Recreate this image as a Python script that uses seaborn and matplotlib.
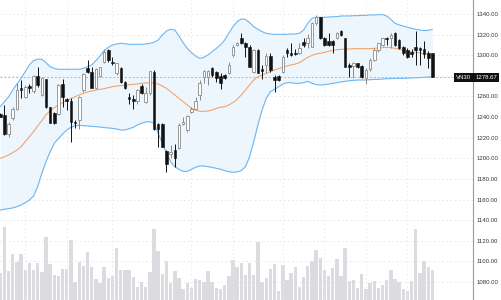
import numpy as np
import pandas as pd
import matplotlib
matplotlib.use("Agg")
import matplotlib.pyplot as plt
import matplotlib.transforms as mtransforms
import seaborn as sns

# ---------------- data ----------------
opens = [1242.7, 1242.1, 1223.6, 1238.8, 1247.9, 1268.6, 1259.2, 1270.2, 1265.0, 1279.9,
         1261.5, 1277.0, 1250.1, 1243.7, 1242.7, 1272.1, 1257.6, 1256.0, 1235.3, 1237.2,
         1266.3, 1287.3, 1284.1, 1268.6, 1279.9, 1293.8, 1305.1, 1293.8, 1282.5, 1287.3,
         1274.4, 1259.2, 1257.3, 1256.0, 1270.5, 1255.0, 1263.1, 1284.1, 1233.3, 1233.0,
         1207.5, 1204.2, 1208.1, 1209.7, 1233.0, 1227.5, 1245.3, 1247.5, 1261.5, 1279.2,
         1278.6, 1287.3, 1284.1, 1279.9, 1280.9, 1283.1, 1300.3, 1310.0, 1317.1, 1311.6,
         1308.3, 1284.1, 1305.1, 1286.4, 1290.6, 1299.6, 1279.2, 1279.9, 1284.1, 1305.1,
         1302.5, 1302.5, 1301.9, 1313.2, 1311.6, 1308.3, 1331.6, 1336.8, 1316.4, 1313.8,
         1314.2, 1316.4, 1323.5, 1316.4, 1290.6, 1289.6, 1292.2, 1289.6, 1277.6, 1286.4,
         1295.4, 1305.1, 1310.0, 1317.1, 1316.4, 1321.9, 1314.8, 1307.7, 1305.1, 1303.5,
         1307.7, 1306.7, 1305.7, 1301.9, 1301.9]
highs = [1243.7, 1251.8, 1235.6, 1250.1, 1272.8, 1276.0, 1271.2, 1272.1, 1280.9, 1288.3,
         1279.2, 1277.0, 1250.1, 1245.3, 1272.1, 1276.6, 1258.2, 1258.2, 1237.2, 1260.5,
         1282.5, 1295.4, 1288.9, 1287.3, 1288.9, 1306.1, 1305.7, 1298.6, 1292.8, 1288.3,
         1275.0, 1263.1, 1261.5, 1267.3, 1272.1, 1269.5, 1285.1, 1285.7, 1234.0, 1234.0,
         1208.1, 1213.0, 1213.6, 1234.0, 1240.4, 1242.1, 1250.1, 1259.2, 1276.0, 1285.7,
         1285.7, 1288.9, 1284.7, 1282.5, 1281.5, 1293.8, 1310.0, 1313.2, 1321.3, 1313.2,
         1310.0, 1305.7, 1305.7, 1290.6, 1301.9, 1301.9, 1280.9, 1280.9, 1300.3, 1306.7,
         1311.6, 1305.7, 1311.6, 1316.4, 1320.6, 1332.6, 1339.1, 1337.4, 1317.4, 1321.3,
         1314.8, 1322.9, 1324.5, 1317.1, 1292.2, 1293.8, 1292.8, 1290.6, 1287.3, 1297.0,
         1306.7, 1312.2, 1317.1, 1318.0, 1321.3, 1322.9, 1315.4, 1309.0, 1306.7, 1305.7,
         1323.9, 1308.3, 1313.8, 1304.5, 1302.5]
lows = [1239.8, 1222.7, 1221.0, 1237.2, 1246.9, 1258.2, 1258.2, 1263.1, 1263.7, 1269.5,
        1260.5, 1248.5, 1234.0, 1233.3, 1242.1, 1250.1, 1246.9, 1216.2, 1229.1, 1228.5,
        1264.7, 1282.5, 1267.9, 1266.9, 1279.2, 1292.2, 1293.8, 1290.6, 1280.9, 1273.4,
        1267.0, 1252.7, 1248.2, 1252.7, 1262.4, 1253.4, 1261.5, 1227.5, 1211.3, 1210.7,
        1187.1, 1200.0, 1191.9, 1208.8, 1232.4, 1225.9, 1244.3, 1246.9, 1256.6, 1272.8,
        1271.2, 1279.2, 1274.4, 1267.0, 1276.6, 1281.8, 1298.6, 1309.3, 1310.9, 1298.6,
        1288.3, 1282.5, 1282.5, 1276.6, 1282.5, 1284.1, 1264.7, 1275.4, 1283.1, 1298.6,
        1299.6, 1300.3, 1301.2, 1308.3, 1306.7, 1307.7, 1329.4, 1315.8, 1309.0, 1309.0,
        1301.9, 1315.4, 1318.7, 1288.3, 1279.2, 1277.6, 1287.3, 1277.6, 1272.1, 1285.1,
        1294.8, 1303.5, 1309.0, 1310.0, 1306.7, 1309.0, 1305.7, 1300.3, 1297.0, 1298.6,
        1290.6, 1290.6, 1297.0, 1287.3, 1278.67]
closes = [1240.4, 1223.3, 1233.3, 1247.9, 1266.3, 1266.0, 1268.9, 1268.6, 1279.9, 1271.2,
          1277.6, 1250.1, 1234.6, 1234.0, 1271.2, 1259.2, 1256.0, 1235.6, 1234.3, 1259.2,
          1281.5, 1284.1, 1268.6, 1286.7, 1288.3, 1302.8, 1295.4, 1292.2, 1292.2, 1274.4,
          1267.9, 1257.3, 1256.0, 1266.3, 1263.1, 1263.1, 1284.7, 1228.2, 1228.2, 1211.3,
          1194.5, 1205.9, 1200.0, 1232.4, 1235.3, 1241.1, 1247.5, 1256.0, 1273.4, 1284.7,
          1284.7, 1280.9, 1277.6, 1272.8, 1277.6, 1290.6, 1308.3, 1311.6, 1311.6, 1308.3,
          1288.9, 1305.1, 1283.1, 1284.7, 1299.6, 1285.7, 1276.0, 1276.0, 1298.6, 1301.9,
          1300.3, 1300.9, 1307.4, 1310.0, 1316.4, 1331.6, 1336.8, 1316.4, 1310.0, 1310.0,
          1310.0, 1321.9, 1319.6, 1288.9, 1288.9, 1292.2, 1288.3, 1279.2, 1285.7, 1295.4,
          1305.1, 1311.6, 1316.4, 1315.4, 1319.7, 1310.0, 1306.7, 1301.9, 1298.0, 1301.2,
          1305.1, 1305.1, 1301.2, 1297.0, 1278.67]
volumes = [267, 727, 290, 463, 383, 463, 300, 367, 300, 370,
           283, 633, 360, 250, 243, 307, 307, 600, 183, 383,
           340, 480, 327, 207, 167, 333, 223, 243, 520, 300,
           300, 300, 227, 133, 183, 133, 283, 713, 493, 257,
           387, 167, 290, 217, 107, 167, 123, 207, 200, 177,
           293, 180, 120, 113, 147, 240, 397, 330, 367, 250,
           367, 250, 583, 177, 217, 310, 360, 93, 353, 197,
           267, 327, 127, 230, 337, 387, 500, 420, 300, 240,
           320, 407, 243, 520, 190, 200, 123, 257, 113, 167,
           190, 123, 147, 200, 300, 207, 183, 110, 90, 190,
           713, 267, 393, 330, 303]
bb_upper = [1250.1, 1255.0, 1259.8, 1266.3, 1272.1, 1277.6, 1284.1, 1290.6, 1294.8, 1296.1,
            1296.1, 1292.8, 1288.9, 1287.3, 1286.4, 1286.4, 1286.4, 1286.4, 1286.4, 1286.4,
            1287.3, 1288.9, 1290.6, 1294.8, 1299.3, 1304.5, 1307.7, 1310.0, 1310.9, 1311.6,
            1311.2, 1310.6, 1310.6, 1310.6, 1310.6, 1310.9, 1311.6, 1312.5, 1314.8, 1319.7,
            1323.5, 1325.2, 1324.5, 1318.7, 1312.2, 1306.7, 1302.5, 1299.3, 1297.0, 1298.0,
            1300.3, 1303.5, 1306.7, 1310.0, 1314.8, 1321.3, 1327.7, 1332.6, 1335.2, 1334.8,
            1331.6, 1327.7, 1325.2, 1322.9, 1321.3, 1320.6, 1320.3, 1320.3, 1320.3, 1320.3,
            1320.6, 1320.6, 1321.3, 1324.5, 1331.0, 1335.8, 1336.8, 1336.8, 1336.8, 1337.1,
            1337.4, 1337.4, 1338.1, 1338.1, 1338.1, 1338.4, 1338.4, 1338.7, 1338.7, 1339.1,
            1339.1, 1339.4, 1339.4, 1338.1, 1334.8, 1331.0, 1329.4, 1328.4, 1327.1, 1326.1,
            1325.2, 1324.5, 1323.9, 1324.2, 1325.2]
bb_middle = [1200.0, 1201.6, 1203.3, 1205.5, 1208.1, 1211.3, 1216.2, 1221.0, 1225.9, 1231.4,
             1236.6, 1242.1, 1246.3, 1249.2, 1251.8, 1254.0, 1256.0, 1257.9, 1259.8, 1261.5,
             1263.1, 1264.4, 1265.3, 1266.3, 1267.0, 1267.6, 1268.6, 1269.5, 1270.2, 1270.5,
             1270.8, 1271.5, 1271.8, 1272.1, 1272.8, 1273.1, 1273.4, 1273.1, 1272.1, 1270.2,
             1267.9, 1264.7, 1261.5, 1258.2, 1255.0, 1251.8, 1248.5, 1246.9, 1245.6, 1245.6,
             1245.9, 1246.9, 1248.5, 1249.5, 1250.1, 1251.8, 1254.0, 1257.3, 1261.5, 1266.3,
             1271.2, 1276.0, 1279.2, 1280.9, 1282.5, 1284.1, 1285.7, 1287.0, 1288.3, 1289.6,
             1290.6, 1291.5, 1292.8, 1295.4, 1298.0, 1299.9, 1301.2, 1301.9, 1302.8, 1303.8,
             1304.8, 1305.4, 1305.7, 1306.1, 1306.1, 1306.4, 1306.4, 1306.4, 1306.4, 1306.4,
             1306.7, 1307.0, 1307.4, 1307.7, 1307.4, 1306.7, 1305.7, 1304.8, 1303.8, 1303.2,
             1302.8, 1302.2, 1301.5, 1300.9, 1300.3]
bb_lower = [1149.9, 1150.6, 1151.2, 1151.9, 1153.1, 1154.8, 1157.0, 1159.6, 1163.5, 1172.6,
            1185.5, 1196.8, 1206.5, 1214.6, 1219.4, 1223.6, 1227.5, 1230.1, 1231.7, 1232.0,
            1231.7, 1231.4, 1231.1, 1230.7, 1230.4, 1229.8, 1229.5, 1229.1, 1228.5, 1227.5,
            1227.5, 1228.8, 1230.1, 1232.4, 1234.0, 1235.3, 1235.6, 1234.0, 1224.3, 1214.6,
            1204.9, 1196.8, 1191.9, 1189.4, 1187.4, 1187.4, 1189.4, 1191.3, 1192.6, 1192.6,
            1191.9, 1191.3, 1190.3, 1189.4, 1188.1, 1187.1, 1186.5, 1186.8, 1188.1, 1191.9,
            1201.6, 1216.2, 1232.4, 1246.9, 1258.2, 1264.7, 1266.9, 1269.5, 1272.1, 1273.4,
            1273.4, 1272.8, 1272.8, 1273.4, 1274.7, 1272.8, 1271.5, 1271.2, 1271.5, 1272.1,
            1272.8, 1273.4, 1274.1, 1274.7, 1275.4, 1275.7, 1276.0, 1276.0, 1276.0, 1276.3,
            1276.6, 1276.6, 1277.0, 1277.3, 1277.3, 1277.6, 1277.6, 1277.6, 1277.9, 1277.9,
            1278.3, 1278.3, 1278.6, 1278.9, 1279.2]
grid_bars = [6, 16, 27, 46, 56, 68, 78, 88, 98]
y_ticks = [1080, 1100, 1120, 1140, 1160, 1180, 1200, 1220, 1240, 1260, 1300, 1320, 1340]
symbol = "VN30"
last_price = 1278.67

# ---------------- figure ----------------
sns.set_theme(style="white")
plt.rcParams['font.family'] = ['Liberation Sans', 'DejaVu Sans']

W, H = 501, 300
fig = plt.figure(figsize=(W / 100, H / 100), dpi=100)
pos = [0, 0, 473 / W, 1]

df = pd.DataFrame({"i": np.arange(len(closes)), "open": opens, "high": highs,
                   "low": lows, "close": closes, "vol": volumes,
                   "up": bb_upper, "mid": bb_middle, "lo": bb_lower})

xlim = (-0.072, 113.77)

# volume axes (behind)
axv = fig.add_axes(pos, zorder=0)
sns.barplot(data=df, x="i", y="vol", ax=axv, color="#dcdce0", saturation=1,
            width=0.82, native_scale=True, linewidth=0)
axv.set_xlim(*xlim)
axv.set_ylim(0, 3000)
axv.axis("off")

# price axes
ax = fig.add_axes(pos, zorder=1)
ax.patch.set_alpha(0)
ax.set_xlim(*xlim)
ax.set_ylim(1062.6, 1353.6)

# grid
for yv in y_ticks + [1280]:
    ax.axhline(yv, color="#e3e3e3", lw=0.6, ls=(0, (2, 3)), zorder=0)
for gx in grid_bars:
    ax.axvline(gx, color="#e8e8e8", lw=0.6, ls=(0, (2, 3)), zorder=0)

# Bollinger
ax.fill_between(df["i"], df["lo"], df["up"], color="#eef6fd", zorder=1, lw=0)
sns.lineplot(data=df, x="i", y="up", ax=ax, color="#6cb6f2", lw=0.8, zorder=2)
sns.lineplot(data=df, x="i", y="lo", ax=ax, color="#6cb6f2", lw=0.8, zorder=2)
sns.lineplot(data=df, x="i", y="mid", ax=ax, color="#f4a46a", lw=0.8, zorder=2)

# candles
o = df["open"].values; c = df["close"].values
up = c >= o
x = df["i"].values
ax.vlines(x[up], df["low"].values[up], df["high"].values[up], color="#8a8a8a", lw=0.7, zorder=3)
ax.vlines(x[~up], df["low"].values[~up], df["high"].values[~up], color="#111111", lw=0.7, zorder=3)
body_b = np.minimum(o, c)
body_h = np.maximum(np.abs(c - o), 0.6)
ax.bar(x[up], body_h[up], bottom=body_b[up], width=0.62, color="white",
       edgecolor="#8a8a8a", linewidth=0.6, zorder=4)
ax.bar(x[~up], body_h[~up], bottom=body_b[~up], width=0.62, color="#111111",
       edgecolor="#111111", linewidth=0.4, zorder=4)

# last price line
ax.axhline(last_price, color="#b5b5b5", lw=0.7, ls=(0, (2, 2)), zorder=2)

# axis styling
ax.set_xlabel(""); ax.set_ylabel("")
ax.set_xticks([])
ax.yaxis.tick_right()
ax.set_yticks(y_ticks)
ax.set_yticklabels([f"{v:.2f}" for v in y_ticks], fontsize=4.3, color="#333333")
ax.tick_params(axis="y", length=0, pad=2.5)
for s in ["top", "left", "bottom"]:
    ax.spines[s].set_visible(False)
ax.spines["right"].set_color("#9a9a9a")
ax.spines["right"].set_linewidth(0.8)

trans = mtransforms.blended_transform_factory(ax.transAxes, ax.transData)
ax.text(0.997, last_price, symbol, transform=trans, ha="right", va="center",
        fontsize=4.3, color="white", zorder=6,
        bbox=dict(boxstyle="square,pad=0.35", fc="#111111", ec="none"))
ax.text(1.0055, last_price, f"{last_price:.2f}", transform=trans, ha="left", va="center",
        fontsize=4.3, color="white", zorder=6, clip_on=False,
        bbox=dict(boxstyle="square,pad=0.35", fc="#111111", ec="none"))

fig.savefig("out.png", dpi=100)
